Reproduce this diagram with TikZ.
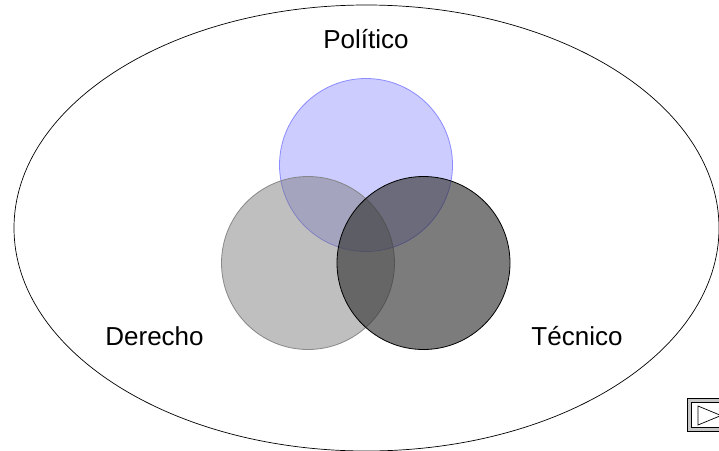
\documentclass[tikz,border=0pt]{standalone}
\usepackage{fontspec}
\setmainfont{Liberation Sans}
\usetikzlibrary{shapes.geometric}
\begin{document}
\begin{tikzpicture}[x=1pt,y=-1pt,
  lbl/.style={anchor=base,inner sep=0pt,font=\fontsize{26}{30}\selectfont},
  venn/.style={circle,inner sep=0pt,minimum size=173pt,line width=0.8pt},
]
\useasboundingbox (0,0) rectangle (719,450);
\fill[white] (0,0) rectangle (719,450);
% outer ellipse
\node[ellipse,draw=black,line width=0.7pt,minimum width=705pt,minimum height=446pt,inner sep=0pt] (world) at (366.5,228) {};
% circles
\definecolor{polblue}{RGB}{128,128,255}
\definecolor{polborder}{RGB}{130,130,255}
\definecolor{dergray}{RGB}{121,121,121}
\definecolor{tecgray}{RGB}{55,55,55}
\node[venn,fill=polblue,fill opacity=0.4,draw=polborder,draw opacity=0.9] (pol) at (366,165) {};
\node[venn,fill=dergray,fill opacity=0.47,draw=black!50,draw opacity=0.9] (der) at (308,263) {};
\node[venn,fill=tecgray,fill opacity=0.65,draw=black] (tec) at (423.5,263) {};
% labels
\node[lbl] (tpol) at (366,48) {Político};
\node[lbl] (tder) at (154.5,345) {Derecho};
\node[lbl] (ttec) at (577,345) {Técnico};
% button
\draw[fill=black!22,line width=0.7pt] (687,398) rectangle (725,431);
\draw[fill=white,line width=0.7pt] (691,402) rectangle (725,427);
\draw[line width=0.7pt] (698,406) -- (721,415.5) -- (698,425) -- cycle;
\end{tikzpicture}
\end{document}
